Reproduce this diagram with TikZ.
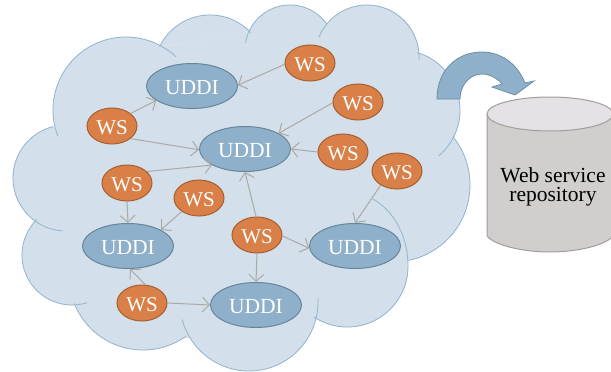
\documentclass[tikz,border=0pt]{standalone}
\usepackage{fontspec}
\setmainfont{Liberation Serif}
\usetikzlibrary{arrows.meta,shapes.geometric}
\definecolor{cloudfill}{HTML}{D3DFEA}
\definecolor{cloudline}{HTML}{93B4CF}
\definecolor{uddifill}{HTML}{8FB0CA}
\definecolor{uddiline}{HTML}{668699}
\definecolor{wsfill}{HTML}{D88048}
\definecolor{wsline}{HTML}{A85F30}
\definecolor{linkgray}{HTML}{ABA9A5}
\definecolor{cylbody}{HTML}{D0CFCE}
\definecolor{cyltop}{HTML}{E4E2E4}
\definecolor{cylline}{HTML}{A49C9C}
\tikzset{
  uddi/.style={ellipse,draw=uddiline,fill=uddifill,line width=1pt,minimum width=91pt,minimum height=45pt,inner sep=0pt,text=white,text height=16pt,text depth=0pt,font=\fontsize{21.5}{21}\selectfont},
  wsnode/.style={ellipse,draw=wsline,fill=wsfill,line width=1pt,minimum width=50pt,minimum height=36pt,inner sep=0pt,text=white,text height=16pt,text depth=0pt,font=\fontsize{21}{20.5}\selectfont},
  link/.style={draw=linkgray,line width=1pt,-{Straight Barb[length=7pt,width=15pt,line width=1pt]}},
  lobe/.style={draw=cloudline,line width=.8pt,line cap=round},
  lobefill/.style={fill=cloudfill,draw=cloudfill,line width=.5pt},
}
\newcommand{\lobefillpass}[1]{\path[lobefill] #1 -- cycle;}
\newcommand{\lobedrawpass}[1]{\draw[lobe] #1;}
\newcommand{\arcpath}[5]{(#1,#2) ++(#4:#3) arc[start angle=#4,end angle=#5,radius=#3]}
\newcommand{\alllobes}[1]{%
  #1{\arcpath{126}{110}{73}{159}{313}}%
  #1{\arcpath{210}{71}{56}{206}{317}}%
  #1{\arcpath{290}{50}{45}{189}{325}}%
  #1{\arcpath{367}{57}{52}{203}{363}}%
  #1{\arcpath{400}{110}{60}{287}{410}}%
  #1{\arcpath{393}{185}{77}{321}{438}}%
  #1{(373,199) .. controls (397,213) and (408,240) .. (408,266) .. controls (408,300) and (381,327) .. (347,327) .. controls (335,327) and (323,323) .. (314,317)}%
  #1{\arcpath{249}{302}{69}{-3}{165}}%
  #1{\arcpath{143}{276}{74}{55}{158}}%
  #1{\arcpath{72}{255}{50}{73}{225}}%
  #1{\arcpath{66}{178}{53}{94}{256}}%
}
\begin{document}
\begin{tikzpicture}[x=1pt,y=-1pt]
\useasboundingbox (0,0) rectangle (611,372);
% cloud
\path[lobefill] (57,130) -- (161,47) -- (250,33) -- (328,23) -- (418,52) -- (455,135) -- (409,260) -- (314,317) -- (187,338) -- (74,304) -- (36,219) -- (53,127) -- cycle;
\alllobes{\lobefillpass}
\alllobes{\lobedrawpass}
% curved arrow
\draw[fill=uddifill,draw=uddiline!80!uddifill,line width=.8pt,line join=miter]
  (437,99) .. controls (437,70) and (457,52) .. (482,52)
  .. controls (502,52) and (518,65) .. (525,83)
  -- (534,81) -- (515,95) -- (492,87) -- (502,84)
  .. controls (497,78) and (490,74) .. (482,74)
  .. controls (470,74) and (460,85) .. (460,99) -- cycle;
% cylinder
\draw[fill=cylbody,draw=cylline,line width=1pt] (487,114) -- (487,236) .. controls (495,246) and (525,252) .. (550,252) .. controls (575,252) and (605,246) .. (613,236) -- (613,114) -- cycle;
\draw[fill=cyltop,draw=cylline,line width=1pt] (550,114) ellipse [x radius=63,y radius=17];
\node[inner sep=0pt,align=center,font=\fontsize{21.5}{19}\selectfont,text=black] (repo) at (553,186.5) {Web service\\repository};
% nodes
\node[uddi] (u1) at (192,86) {UDDI};
\node[uddi] (u2) at (245,149) {UDDI};
\node[uddi] (u3) at (128,246) {UDDI};
\node[uddi] (u4) at (256,305) {UDDI};
\node[uddi] (u5) at (355,246) {UDDI};
\node[wsnode] (a) at (112,126) {WS};
\node[wsnode] (b) at (310,63) {WS};
\node[wsnode] (c) at (358,102) {WS};
\node[wsnode] (d) at (343,152) {WS};
\node[wsnode] (e) at (397,171) {WS};
\node[wsnode] (f) at (127,183) {WS};
\node[wsnode] (g) at (199,198) {WS};
\node[wsnode] (h) at (257,235) {WS};
\node[wsnode] (i) at (142,303) {WS};
% connectors
\draw[link] (b.183) -- (u1.1);
\draw[link] (c.182) -- (u2.25);
\draw[link] (d.180) -- (u2.0);
\draw[link] (e.221) -- (u5.90);
\draw[link] (a.34) -- (u1.202);
\draw[link] (a.-34) -- (u2.181);
\draw[link] (f.30) -- (u2.206);
\draw[link] (f.270) -- (u3.90);
\draw[link] (g.218) -- (u3.26);
\draw[link] (h.93) -- (u2.270);
\draw[link] (h.358) -- (u5.183);
\draw[link] (h.270) -- (u4.90);
\draw[link] (i.80) -- (u3.275);
\draw[link] (i.0) -- (u4.180);
\end{tikzpicture}
\end{document}
